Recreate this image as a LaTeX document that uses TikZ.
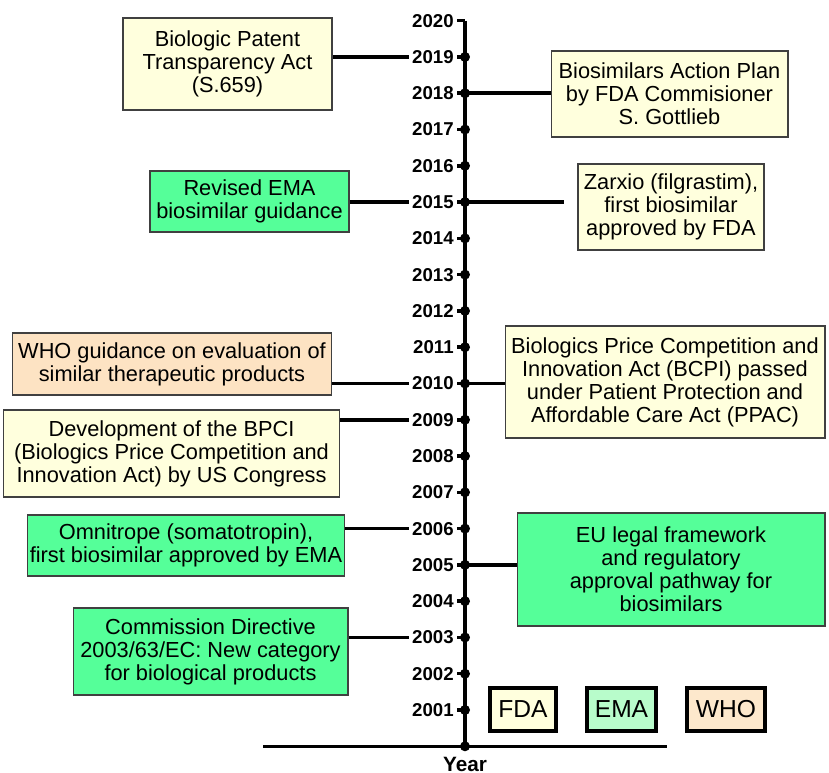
\documentclass[tikz,border=0pt]{standalone}
\usepackage{fontspec}
\setmainfont{Liberation Sans}
\usetikzlibrary{calc}
\definecolor{fdafill}{HTML}{FFFFDD}
\definecolor{emafill}{HTML}{55FF99}
\definecolor{whofill}{HTML}{FDE3C3}
\definecolor{emalight}{HTML}{B8FCCB}
\definecolor{whofill2}{HTML}{FDE8CC}
\begin{document}
\begin{tikzpicture}
	[	x=0.02cm,y=-0.02cm,
	event/.style={rectangle,draw=black!75,line width=0.6pt,inner sep=0pt,align=center,font=\fontsize{12.4}{13.1}\selectfont},
	fda/.style={event,fill=fdafill},
	ema/.style={event,fill=emafill},
	who/.style={event,fill=whofill},
	year/.style={anchor=east,inner sep=0.06cm,font=\bfseries\fontsize{10.6}{12}\selectfont},
	legend/.style={rectangle,draw=black,line width=2.4pt,inner sep=0pt,minimum height=0.86cm,font=\fontsize{14}{16}\selectfont},
	link/.style={line width=2pt}
	]
	\useasboundingbox (0,0) rectangle (829,773);
% time axis
	\foreach \yr [evaluate=\yr as \yy using {710-(\yr-2001)*36.28}] in {2001,...,2020}{
		\coordinate (p\yr) at (465,\yy);
		\node[year] (y\yr) at (457,\yy){\yr};
		\draw[link] (y\yr.east) -- (p\yr);
	}
	\coordinate (p2000) at (465,746.3);
	\coordinate (xl) at (263,746.3);
	\coordinate (xr) at (667,746.3);
	\draw[link] (p2020) -- (p2000);
	\draw[link] (xl) -- (xr);
	\foreach \yr in {2000,...,2019}
		\fill (p\yr) circle (0.1cm);
	\node[font=\bfseries\fontsize{11.8}{13}\selectfont] (yearlab) at (465,764){Year};
% events, left side
	\node[fda,minimum width=4.18cm,minimum height=1.84cm] (bpta) at (227.5,64){Biologic Patent\\Transparency Act\\(S.659)};
	\node[ema,minimum width=3.98cm,minimum height=1.22cm] (emarev) at (249.5,201.5){Revised EMA\\biosimilar guidance};
	\node[who,minimum width=6.4cm,minimum height=1.24cm] (whoguide) at (172,364){WHO guidance on evaluation of\\similar therapeutic products};
	\node[fda,minimum width=6.74cm,minimum height=1.74cm] (bpcidev) at (171.5,453.5){Development of the BPCI\\(Biologics Price Competition and\\Innovation Act) by US Congress};
	\node[ema,minimum width=6.36cm,minimum height=1.22cm] (omni) at (186,545.5){Omnitrope (somatotropin),\\first biosimilar approved by EMA};
	\node[ema,minimum width=5.5cm,minimum height=1.74cm] (comdir) at (210.5,651.5){Commission Directive\\2003/63/EC: New category\\for biological products};
% events, right side
	\node[fda,minimum width=4.74cm,minimum height=1.72cm] (plan) at (669.5,94){Biosimilars Action Plan\\by FDA Commisioner\\S. Gottlieb};
	\node[fda,minimum width=3.72cm,minimum height=1.72cm] (zarxio) at (671,207){Zarxio (filgrastim),\\first biosimilar\\approved by FDA};
	\node[fda,minimum width=6.4cm,minimum height=2.24cm] (bpci) at (665,382){Biologics Price Competition and\\Innovation Act (BCPI) passed\\under Patient Protection and\\Affordable Care Act (PPAC)};
	\node[ema,minimum width=6.16cm,minimum height=2.26cm] (eulegal) at (671,569.5){EU legal framework\\and regulatory\\approval pathway for\\biosimilars};
% connectors
	\draw[link] (bpta.east |- y2019.west) -- (y2019.west);
	\draw[link] (emarev.east |- y2015.west) -- (y2015.west);
	\draw[link] (whoguide.east |- y2010.west) -- (y2010.west);
	\draw[link] (bpcidev.east |- y2009.west) -- (y2009.west);
	\draw[link] (omni.east |- y2006.west) -- (y2006.west);
	\draw[link] (comdir.east |- y2003.west) -- (y2003.west);
	\draw[link] (p2018) -- (plan.west |- p2018);
	\draw[link,shorten >=0.26cm] (p2015) -- (zarxio.west |- p2015);
	\draw[link] (p2010) -- (bpci.west |- p2010);
	\draw[link] (p2005) -- (eulegal.west |- p2005);
% legend
	\node[legend,fill=fdafill,minimum width=1.32cm] (legfda) at (523,709.5){FDA};
	\node[legend,fill=emalight,minimum width=1.38cm] (legema) at (621.5,709.5){EMA};
	\node[legend,fill=whofill2,minimum width=1.56cm] (legwho) at (726,709.5){WHO};
\end{tikzpicture}
\end{document}
